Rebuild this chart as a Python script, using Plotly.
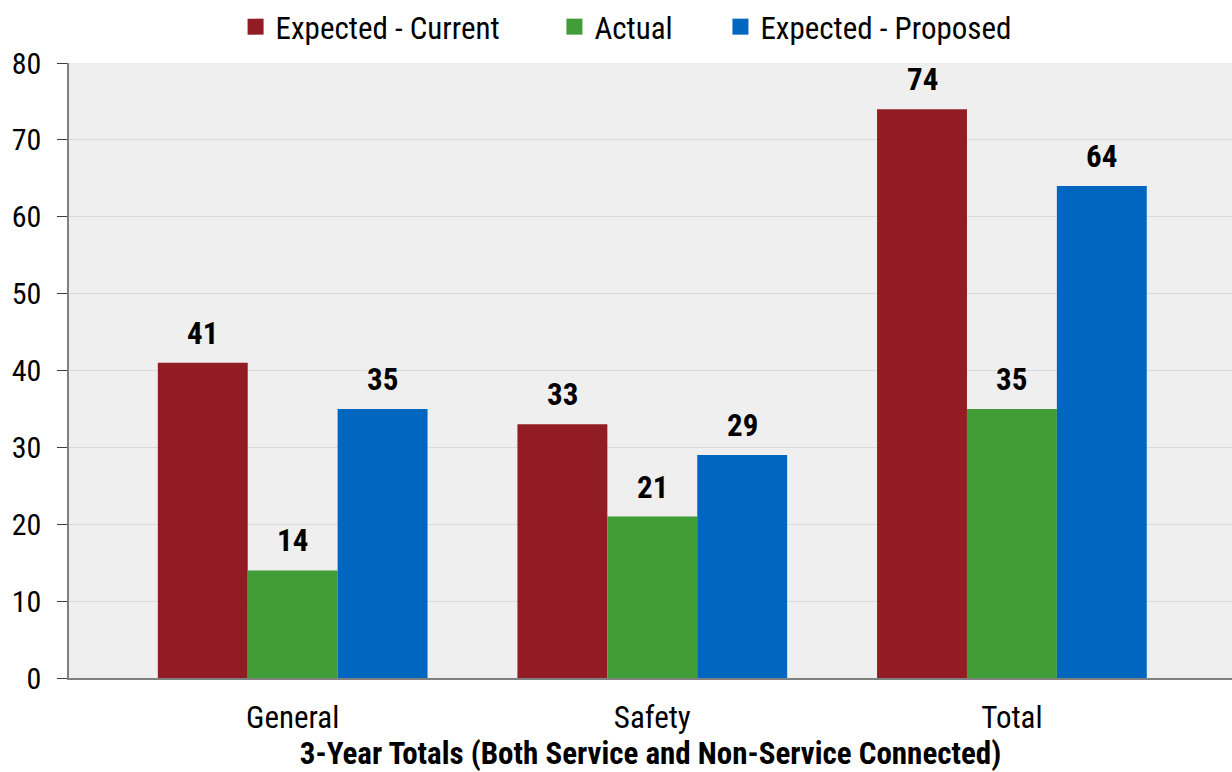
import plotly.graph_objects as go

categories = ["General", "Safety", "Total"]
expected_current = [41, 33, 74]
actual = [14, 21, 35]
expected_proposed = [35, 29, 64]

series_names = ["Expected - Current", "Actual", "Expected - Proposed"]
series_values = [expected_current, actual, expected_proposed]
series_colors = ["#911c23", "#409c36", "#0066bf"]
y_ticks = [0, 10, 20, 30, 40, 50, 60, 70, 80]

FONT = "Roboto Condensed, Liberation Sans Narrow, Arial Narrow, sans-serif"
BAR_WIDTH = 0.25  # fraction of a category slot taken by each bar
LEGEND_PADS = ["\u00a0" * 7, "\u00a0" * 6, ""]  # extra room after legend entries

fig = go.Figure()
for name, vals, color, pad in zip(series_names, series_values, series_colors, LEGEND_PADS):
    fig.add_trace(go.Bar(
        name=name,
        x=categories,
        y=vals,
        marker=dict(color=color, line=dict(width=0)),
        showlegend=False,
    ))
    # legend entry with a larger square swatch
    fig.add_trace(go.Scatter(
        name=name + pad,
        x=[None],
        y=[None],
        mode="markers",
        marker=dict(symbol="square", size=16, color=color),
        showlegend=True,
    ))

# value labels above each bar
for s, vals in enumerate(series_values):
    for c, v in enumerate(vals):
        fig.add_annotation(
            x=c + (s - 1) * BAR_WIDTH,
            y=v,
            text=f"<b>{v}</b>",
            showarrow=False,
            yanchor="bottom",
            yshift=9,
            font=dict(family=FONT, size=31, color="#000000"),
        )

fig.update_layout(
    width=1232,
    height=772,
    margin=dict(l=69, r=0, t=62, b=94),
    paper_bgcolor="#ffffff",
    plot_bgcolor="#efefef",
    barmode="group",
    bargap=0.25,
    bargroupgap=0,
    font=dict(family=FONT, color="#000000"),
    legend=dict(
        orientation="h",
        x=0.479,
        xanchor="center",
        y=1.058,
        yanchor="middle",
        font=dict(size=31),
        itemwidth=30,
        itemsizing="trace",
        traceorder="normal",
    ),
    xaxis=dict(
        range=[-0.622, 2.612],
        showgrid=False,
        showline=True,
        linecolor="#808080",
        linewidth=1.5,
        ticks="",
        ticklabelstandoff=11,
        tickfont=dict(size=31),
        title=dict(text="<b>3-Year Totals (Both Service and Non-Service Connected)</b>",
                   font=dict(size=31), standoff=8),
    ),
    yaxis=dict(
        range=[0, 80],
        tickvals=y_ticks,
        showgrid=True,
        gridcolor="#d9d9d9",
        gridwidth=1,
        showline=True,
        linecolor="#808080",
        linewidth=1.5,
        ticks="outside",
        ticklen=10,
        tickcolor="#404040",
        ticklabelstandoff=10,
        tickfont=dict(size=30),
        zeroline=False,
    ),
)

fig.write_html("out.html")
